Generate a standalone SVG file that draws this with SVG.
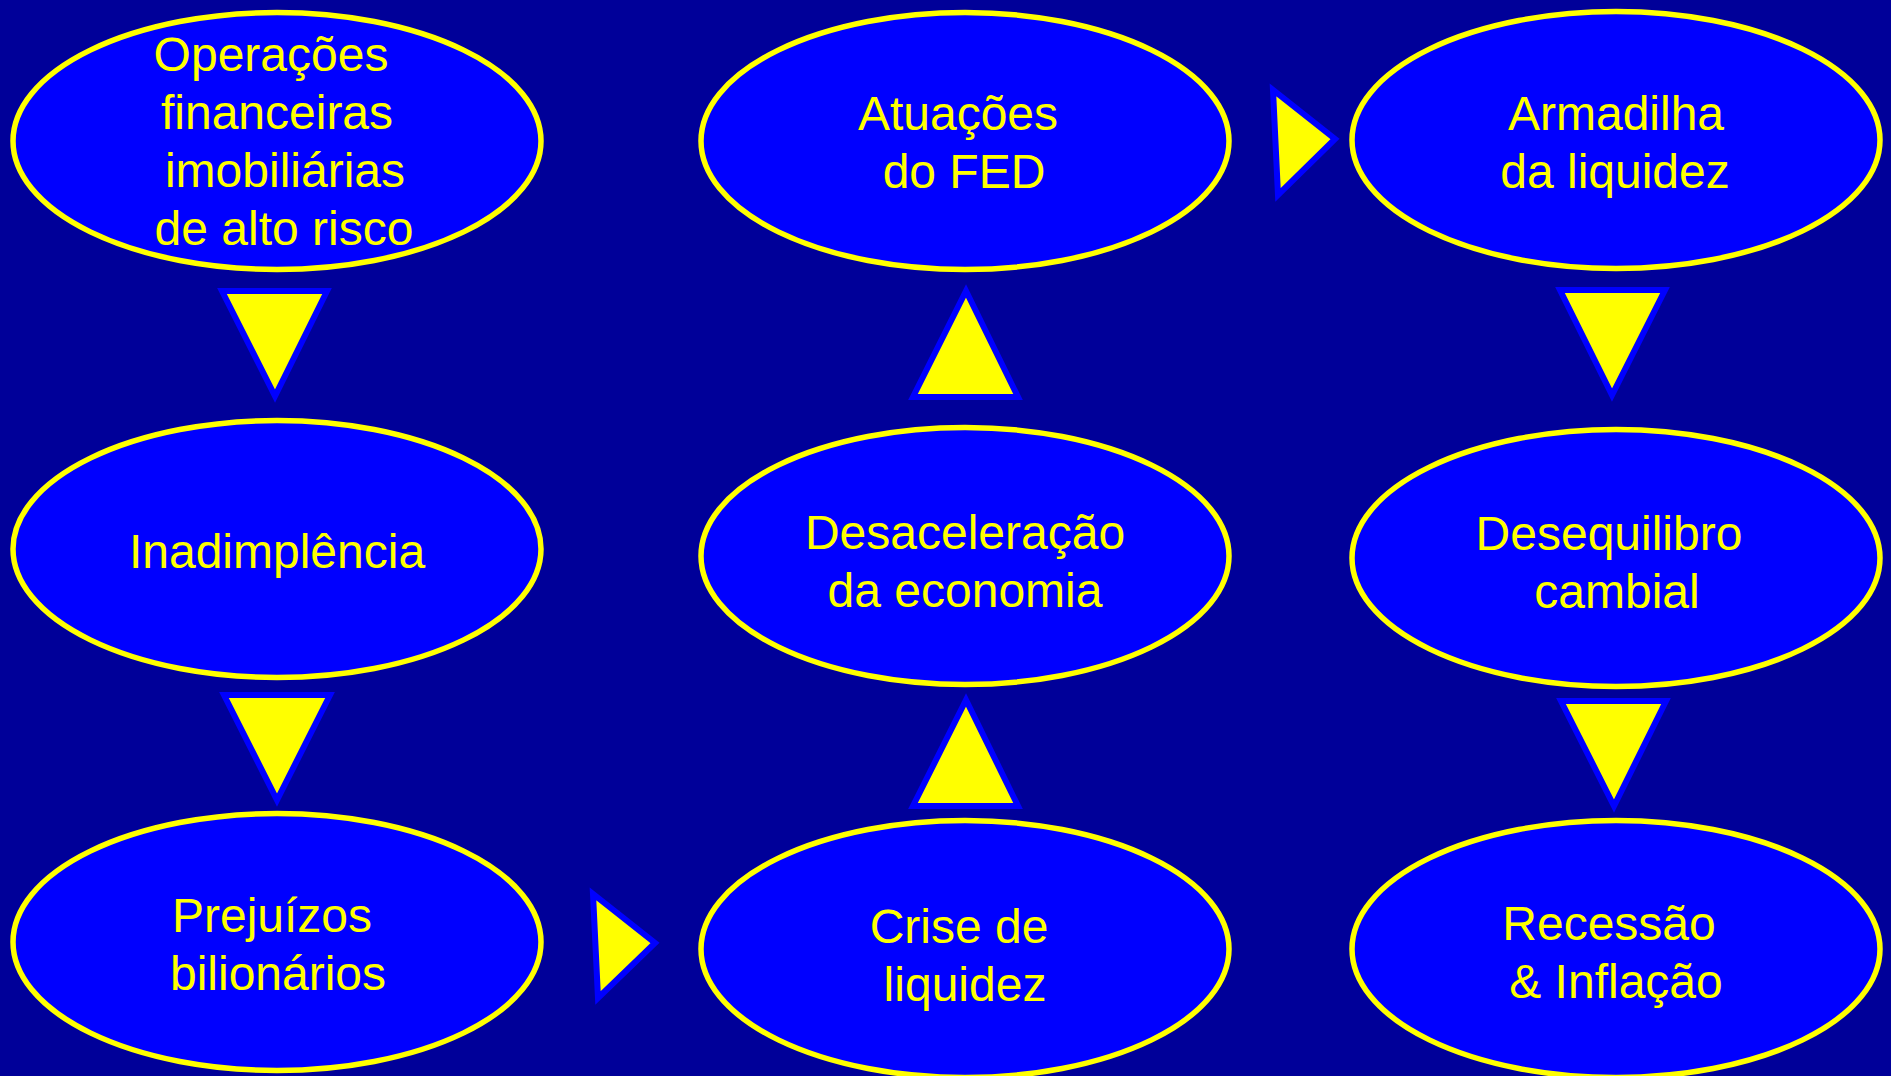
<svg xmlns="http://www.w3.org/2000/svg" width="1891" height="1076" viewBox="0 0 1891 1076">
<style>
.node ellipse{fill:#0000FF;stroke:#FFFF00;stroke-width:5.5}
.node text{font-family:"Liberation Sans",Arial,sans-serif;font-size:48px;fill:#FFFF00;text-anchor:middle}
.arrow{fill:#FFFF00;stroke:#0000FF;stroke-width:6;stroke-linejoin:miter;stroke-miterlimit:10}
</style>
<rect width="1891" height="1076" fill="#000099"/>
<g id="n1" class="node"><ellipse cx="277" cy="141" rx="264" ry="128.5"/>
<text x="271" y="71">Operações</text><text x="277" y="129">financeiras</text><text x="285" y="187">imobiliárias</text><text x="284" y="245">de alto risco</text></g>
<g id="n2" class="node"><ellipse cx="277" cy="549" rx="264" ry="128.5"/>
<text x="277" y="568">Inadimplência</text></g>
<g id="n3" class="node"><ellipse cx="277" cy="942" rx="264" ry="128.5"/>
<text x="272" y="932">Prejuízos</text><text x="278" y="990">bilionários</text></g>
<g id="n4" class="node"><ellipse cx="965" cy="949" rx="264" ry="128.5"/>
<text x="959" y="943">Crise de</text><text x="965" y="1001">liquidez</text></g>
<g id="n5" class="node"><ellipse cx="965" cy="556" rx="264" ry="128.5"/>
<text x="965" y="549">Desaceleração</text><text x="965" y="607">da economia</text></g>
<g id="n6" class="node"><ellipse cx="965" cy="141" rx="264" ry="128.5"/>
<text x="958" y="130">Atuações</text><text x="964" y="188">do FED</text></g>
<g id="n7" class="node"><ellipse cx="1616" cy="140" rx="264" ry="128.5"/>
<text x="1616" y="130">Armadilha</text><text x="1615" y="188">da liquidez</text></g>
<g id="n8" class="node"><ellipse cx="1616" cy="558" rx="264" ry="128.5"/>
<text x="1609" y="550">Desequilibro</text><text x="1617" y="608">cambial</text></g>
<g id="n9" class="node"><ellipse cx="1616" cy="949" rx="264" ry="128.5"/>
<text x="1609" y="940">Recessão</text><text x="1616" y="998">&amp; Inflação</text></g>
<g id="connectors">
<polygon class="arrow" points="222,291 327,291 275,396"/>
<polygon class="arrow" points="224,695 330,695 277,800"/>
<polygon class="arrow" points="593,894 598,998 655,943"/>
<polygon class="arrow" points="913,806 1018,806 966,700"/>
<polygon class="arrow" points="913,397 1018,397 966,291"/>
<polygon class="arrow" points="1273,90 1278,195 1335,139"/>
<polygon class="arrow" points="1560,290 1665,290 1612,395"/>
<polygon class="arrow" points="1561,701 1666,701 1614,806"/>
</g>
</svg>
